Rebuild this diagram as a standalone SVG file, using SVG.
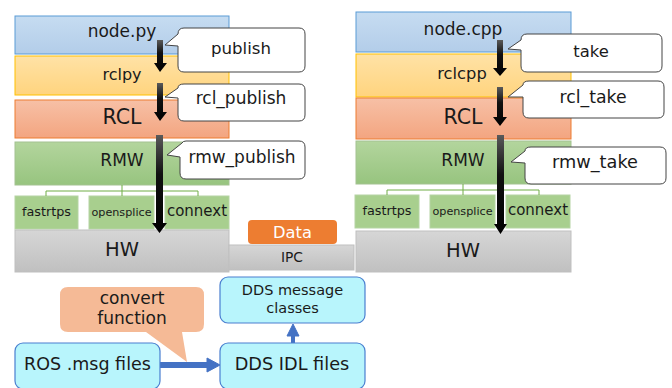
<svg xmlns="http://www.w3.org/2000/svg" width="672" height="388" viewBox="0 0 672 388">
<defs>
<linearGradient id="gBlue" x1="0" y1="0" x2="0" y2="1"><stop offset="0" stop-color="#c6dcf1"/><stop offset="1" stop-color="#b3cde9"/></linearGradient>
<linearGradient id="gYel" x1="0" y1="0" x2="0" y2="1"><stop offset="0" stop-color="#ffe2a6"/><stop offset="1" stop-color="#ffd47e"/></linearGradient>
<linearGradient id="gOr" x1="0" y1="0" x2="0" y2="1"><stop offset="0" stop-color="#f7c0a6"/><stop offset="1" stop-color="#f3a580"/></linearGradient>
<linearGradient id="gGr" x1="0" y1="0" x2="0" y2="1"><stop offset="0" stop-color="#b3d59d"/><stop offset="1" stop-color="#97c47f"/></linearGradient>
<linearGradient id="gGray" x1="0" y1="0" x2="0" y2="1"><stop offset="0" stop-color="#d6d6d6"/><stop offset="1" stop-color="#c0c0c0"/></linearGradient>
<linearGradient id="gArr" x1="0" y1="0" x2="0" y2="1"><stop offset="0" stop-color="#5a5a5a"/><stop offset="0.4" stop-color="#111"/><stop offset="1" stop-color="#000"/></linearGradient>
</defs>
<style>
text{font-family:"DejaVu Sans","Verdana",sans-serif;fill:#1a1a1a;text-anchor:middle}
.blue{fill:url(#gBlue);stroke:#5b9bd5;stroke-width:1}
.yel{fill:url(#gYel);stroke:#ffc000;stroke-width:1}
.or{fill:url(#gOr);stroke:#ed7d31;stroke-width:1}
.gr{fill:url(#gGr);stroke:#a3c291;stroke-width:1}
.sub{fill:#a8cf8e;stroke:#b5d4a3;stroke-width:1}
.gray{fill:url(#gGray);stroke:#bfbfbf;stroke-width:1}
.call{fill:#fff;stroke:#444;stroke-width:1}
.arr{fill:url(#gArr)}
.tree{fill:none;stroke:#70ad47;stroke-width:1}
.cyan{fill:#b8f5fc;stroke:#4a7fd0;stroke-width:1.2}
.barr{stroke:#4472c4;fill:#4472c4}
</style>

<g id="left-node-py"><rect class="blue" x="15" y="16" width="214" height="38"/><text x="122" y="37" font-size="17">node.py</text></g>
<g id="left-rclpy"><rect class="yel" x="15" y="56" width="214" height="39"/><text x="122" y="80" font-size="16">rclpy</text></g>
<g id="left-rcl"><rect class="or" x="15" y="100" width="214" height="38"/><text x="122" y="124" font-size="20.5">RCL</text></g>
<g id="left-rmw"><rect class="gr" x="15" y="142" width="214" height="43"/><text x="122" y="166" font-size="17">RMW</text></g>
<g id="left-fastrtps"><rect class="sub" x="15" y="196" width="63" height="33"/><text x="46.5" y="216" font-size="12.8">fastrtps</text></g>
<g id="left-opensplice"><rect class="sub" x="89" y="196" width="65" height="33"/><text x="121.5" y="216" font-size="11.2">opensplice</text></g>
<g id="left-connext"><rect class="sub" x="165" y="196" width="64" height="33"/><text x="197" y="216" font-size="15">connext</text></g>
<g id="left-hw"><rect class="gray" x="15" y="230" width="214" height="42"/><text x="122" y="256" font-size="19.5">HW</text></g>

<g id="ipc"><rect class="gray" x="229" y="245" width="125" height="25"/><text x="292" y="262" font-size="13.8">IPC</text></g>
<g id="data"><rect x="248" y="220" width="89" height="24" rx="4" fill="#ed7d31"/><text x="292.5" y="238" font-size="16.3" style="fill:#fff">Data</text></g>

<g id="right-node-cpp"><rect class="blue" x="356" y="12" width="215" height="40"/><text x="463" y="35" font-size="17">node.cpp</text></g>
<g id="right-rclcpp"><rect class="yel" x="356" y="54" width="215" height="43"/><text x="462" y="79" font-size="16.3">rclcpp</text></g>
<g id="right-rcl"><rect class="or" x="356" y="98" width="215" height="41"/><text x="463" y="124" font-size="20.5">RCL</text></g>
<g id="right-rmw"><rect class="gr" x="356" y="141" width="215" height="43"/><text x="463" y="166" font-size="17">RMW</text></g>
<g id="right-fastrtps"><rect class="sub" x="355" y="195" width="64" height="33"/><text x="387" y="215" font-size="12.8">fastrtps</text></g>
<g id="right-opensplice"><rect class="sub" x="430" y="195" width="65" height="33"/><text x="462.5" y="215" font-size="11.2">opensplice</text></g>
<g id="right-connext"><rect class="sub" x="506" y="195" width="64" height="33"/><text x="538" y="215" font-size="15">connext</text></g>
<g id="right-hw"><rect class="gray" x="356" y="231" width="215" height="41"/><text x="463" y="257" font-size="19.5">HW</text></g>

<g id="connectors">
<path class="tree" d="M122,185V191M46,196V191H198V196M122,191V196"/>
<path class="tree" d="M463,184V190M387,195V190H539V195M463,190V195"/>
<polygon class="arr" points="157,40 163,40 163,63 167,63 160,72 154,63 157,63"/>
<polygon class="arr" points="157,83 163,83 163,112 167,112 160,121 154,112 157,112"/>
<polygon class="arr" points="156,135 163,135 163,223 167,223 159.5,233 152,223 156,223"/>
<polygon class="arr" points="497,40 503,40 503,68 507,68 500,76 493,68 497,68"/>
<polygon class="arr" points="497,87 503,87 503,117 507,117 500,126 493,117 497,117"/>
<polygon class="arr" points="497,135 504,135 504,224 507,224 500.5,234 494,224 497,224"/>
<line class="barr" x1="160" y1="365" x2="208" y2="365" stroke-width="6"/>
<polygon class="barr" points="207,358 220,365 207,372"/>
<line class="barr" x1="293" y1="343" x2="293" y2="334" stroke-width="4"/>
<polygon class="barr" points="287,336 293,324 299,336"/>
</g>

<g id="callout-publish"><path class="call" d="M184,28H299Q305,28 305,34V66Q305,72 299,72H184Q178,72 178,66V46L165,45L178,34Q178,28 184,28Z"/><text x="241" y="54" font-size="16.6">publish</text></g>
<g id="callout-rcl-publish"><path class="call" d="M184,84H299Q305,84 305,90V115Q305,121 299,121H184Q178,121 178,115V98L165,97L178,88Q178,84 184,84Z"/><text x="241" y="104" font-size="17">rcl_publish</text></g>
<g id="callout-rmw-publish"><path class="call" d="M186,141H299Q305,141 305,147V173Q305,179 299,179H186Q180,179 180,173V157L167,155L182,143Q183,141 186,141Z"/><text x="242" y="163" font-size="17">rmw_publish</text></g>
<g id="callout-take"><path class="call" d="M527,34H656Q662,34 662,40V66Q662,72 656,72H527Q521,72 521,66V50L508,49L521,40Q521,34 527,34Z"/><text x="591" y="57" font-size="16.4">take</text></g>
<g id="callout-rcl-take"><path class="call" d="M529,81H658Q664,81 664,87V112Q664,118 658,118H529Q523,118 523,112V97L508,97L523,85Q523,81 529,81Z"/><text x="593" y="103" font-size="17.3">rcl_take</text></g>
<g id="callout-rmw-take"><path class="call" d="M531,147H660Q666,147 666,153V178Q666,184 660,184H531Q525,184 525,178V163L511,162L525,151Q525,147 531,147Z"/><text x="595" y="168" font-size="17.7">rmw_take</text></g>

<g id="convert-function"><path d="M68,287H196Q204,287 204,295V324Q204,332 196,332H182L187,362L146,332H68Q60,332 60,324V295Q60,287 68,287Z" fill="#f5ba96"/><text x="132" y="304" font-size="17">convert</text><text x="132" y="324" font-size="17">function</text></g>
<g id="ros-msg"><rect class="cyan" x="15" y="343" width="145" height="46" rx="8"/><text x="87.5" y="370" font-size="17.5">ROS .msg files</text></g>
<g id="dds-idl"><rect class="cyan" x="220" y="343" width="145" height="46" rx="8"/><text x="292" y="370" font-size="17.7">DDS IDL files</text></g>
<g id="dds-classes"><rect class="cyan" x="220" y="277" width="145" height="46" rx="8"/><text x="292.5" y="295" font-size="14.5">DDS message</text><text x="292.5" y="313" font-size="14.5">classes</text></g>
</svg>
